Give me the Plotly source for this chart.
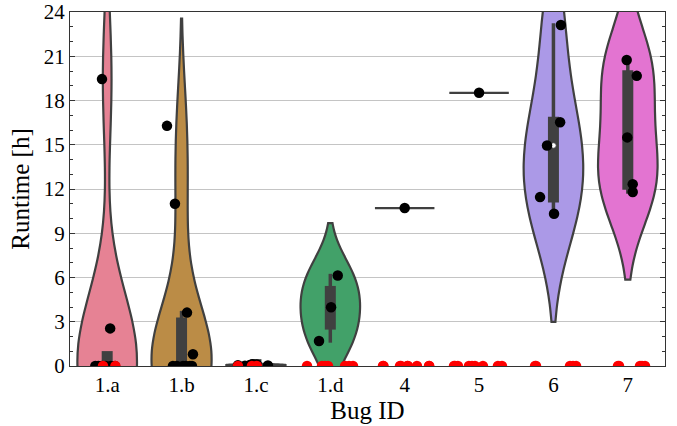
import numpy as np
import plotly.graph_objects as go

# ---------------- data ----------------
bug_ids = ["1.a", "1.b", "1.c", "1.d", "4", "5", "6", "7"]
violin_colors = ["#e68294", "#bb8c46", "#8c963f", "#42a169",
                 "#459e97", "#4c9ebd", "#ab99e7", "#e374d1"]

# runtimes [h] of successful runs
runtime_1a = [19.45, 2.55, 0.0, 0.0, 0.0, 0.0, 0.0, 0.0]
runtime_1b = [16.28, 11.0, 3.62, 0.8, 0.0, 0.0, 0.0, 0.0, 0.0, 0.0]
runtime_1c = [0.02, 0.04, 0.05, 0.07, 0.08, 0.10, 0.12]
runtime_1d = [1.70, 3.98, 6.13]
runtime_4 = [10.71]
runtime_5 = [18.52]
runtime_6 = [23.12, 16.53, 14.95, 11.45, 10.32]
runtime_7 = [20.75, 19.67, 15.50, 12.33, 11.80]

# horizontal jitter of the plotted successful runs (category units)
jitter_1a = [-0.07, 0.04, -0.16, -0.12, -0.07, -0.02, 0.05, 0.105]
jitter_1b = [-0.196, -0.089, 0.073, 0.153, -0.116, -0.062, 0.019, 0.059, 0.113, 0.140]
jitter_1c = [-0.148, 0.161, -0.242, -0.081, -0.027, 0.013, -0.05]
jitter_1d = [-0.152, 0.01, 0.10]
jitter_4 = [0.0]
jitter_5 = [0.0]
jitter_6 = [0.10, 0.09, -0.086, -0.18, 0.008]
jitter_7 = [-0.015, 0.12, -0.007, 0.066, 0.066]

# failed runs (drawn at 0 h): horizontal jitter (category units)
failed_1a = [-0.056, 0.11]
failed_1b = []
failed_1c = [-0.242, -0.054, 0.013]
failed_1d = [-0.313, -0.112, -0.071, -0.031, 0.198, 0.251, 0.305]
failed_4 = [-0.292, -0.285, -0.063, -0.05, 0.035, 0.044, 0.165, 0.327, 0.33]
failed_5 = [-0.337, -0.324, -0.284, -0.136, -0.095, -0.055, 0.052, 0.254, 0.308]
failed_6 = [-0.247, -0.234, 0.223, 0.263, 0.304]
failed_7 = [-0.132, -0.118, 0.164, 0.191, 0.231]
failed_runtime = 0.0

runtimes = [runtime_1a, runtime_1b, runtime_1c, runtime_1d,
            runtime_4, runtime_5, runtime_6, runtime_7]
jitters = [jitter_1a, jitter_1b, jitter_1c, jitter_1d,
           jitter_4, jitter_5, jitter_6, jitter_7]
failed = [failed_1a, failed_1b, failed_1c, failed_1d,
          failed_4, failed_5, failed_6, failed_7]

# ---------------- style ----------------
W, H = 677, 426
ML, MR, MT, MB = 70, 12, 12, 60
Y_MAX = 24
VIOLIN_WIDTH = 0.8
GRAY = "#404040"
px_x = (W - ML - MR) / len(bug_ids)
px_y = (H - MT - MB) / Y_MAX
BOX_PX, WHISK_PX = 11.0, 3.5

fig = go.Figure()

# violins
for i, (vals, col) in enumerate(zip(runtimes, violin_colors)):
    v = np.asarray(vals, dtype=float)
    if len(v) > 1:
        bw = v.std(ddof=1) * len(v) ** (-1 / 5)
        fig.add_trace(go.Violin(
            y=v, x0=i, width=VIOLIN_WIDTH, bandwidth=bw, spanmode="soft",
            scalemode="width", side="both", points=False,
            box_visible=False, meanline_visible=False,
            fillcolor=col, line=dict(color=GRAY, width=2.2),
            opacity=1, hoverinfo="skip", orientation="v"))
    else:
        fig.add_trace(go.Scatter(
            x=[i - VIOLIN_WIDTH / 2, i + VIOLIN_WIDTH / 2], y=[v[0], v[0]],
            mode="lines", line=dict(color=GRAY, width=2.2), hoverinfo="skip"))

# inner boxes (seaborn style)
for i, vals in enumerate(runtimes):
    v = np.asarray(vals, dtype=float)
    if len(v) < 2:
        continue
    q25, q50, q75 = np.percentile(v, [25, 50, 75])
    lim = 1.5 * (q75 - q25)
    h1 = v[v >= q25 - lim].min()
    h2 = v[v <= q75 + lim].max()
    ew = WHISK_PX / 2 / px_y
    fig.add_trace(go.Scatter(x=[i, i], y=[h1 - ew, h2 + ew], mode="lines",
                             line=dict(color=GRAY, width=WHISK_PX), hoverinfo="skip"))
    hw = BOX_PX / 2 / px_x
    eb = BOX_PX / 2 / px_y
    fig.add_trace(go.Scatter(
        x=[i - hw, i + hw, i + hw, i - hw, i - hw],
        y=[q25 - eb, q25 - eb, q75 + eb, q75 + eb, q25 - eb],
        mode="lines", fill="toself", fillcolor=GRAY,
        line=dict(width=0, color=GRAY), hoverinfo="skip"))
    fig.add_trace(go.Scatter(x=[i], y=[q50], mode="markers",
                             marker=dict(color="white", size=5.5,
                                         line=dict(color=GRAY, width=0.8)),
                             hoverinfo="skip"))

# successful run points
for i, (vals, jit) in enumerate(zip(runtimes, jitters)):
    fig.add_trace(go.Scatter(
        x=[i + j for j in jit], y=vals, mode="markers",
        marker=dict(color="black", size=10.5, line=dict(width=0)),
        hoverinfo="skip"))

# failed run points
for i, jit in enumerate(failed):
    if not jit:
        continue
    fig.add_trace(go.Scatter(
        x=[i + j for j in jit], y=[failed_runtime] * len(jit), mode="markers",
        marker=dict(color="#ff0000", size=10.5, line=dict(width=0)),
        hoverinfo="skip"))

axis_col = "#333333"
fig.update_layout(
    width=W, height=H, margin=dict(l=ML, r=MR, t=MT, b=MB),
    plot_bgcolor="white", paper_bgcolor="white", showlegend=False,
    violinmode="overlay",
    font=dict(family="Liberation Serif", size=21, color="black"),
    xaxis=dict(range=[-0.5, len(bug_ids) - 0.5], tickvals=list(range(len(bug_ids))),
               ticktext=bug_ids, ticks="", showgrid=False, zeroline=False,
               showline=True, linecolor=axis_col, linewidth=1.3, mirror=True,
               automargin=False, title=dict(text="Bug ID", standoff=2)),
    yaxis=dict(range=[0, Y_MAX], tick0=0, dtick=3, ticks="inside", ticklen=5,
               tickwidth=1, tickcolor=axis_col, showline=True, linecolor=axis_col,
               linewidth=1.3, mirror="ticks", zeroline=False,
               gridcolor="#c4c4c4", gridwidth=1, automargin=False,
               minor=dict(dtick=1, ticks="inside", ticklen=3, tickcolor=axis_col,
                          showgrid=False),
               title=dict(text="Runtime [h]", standoff=6)),
)

fig.write_html("out.html")
